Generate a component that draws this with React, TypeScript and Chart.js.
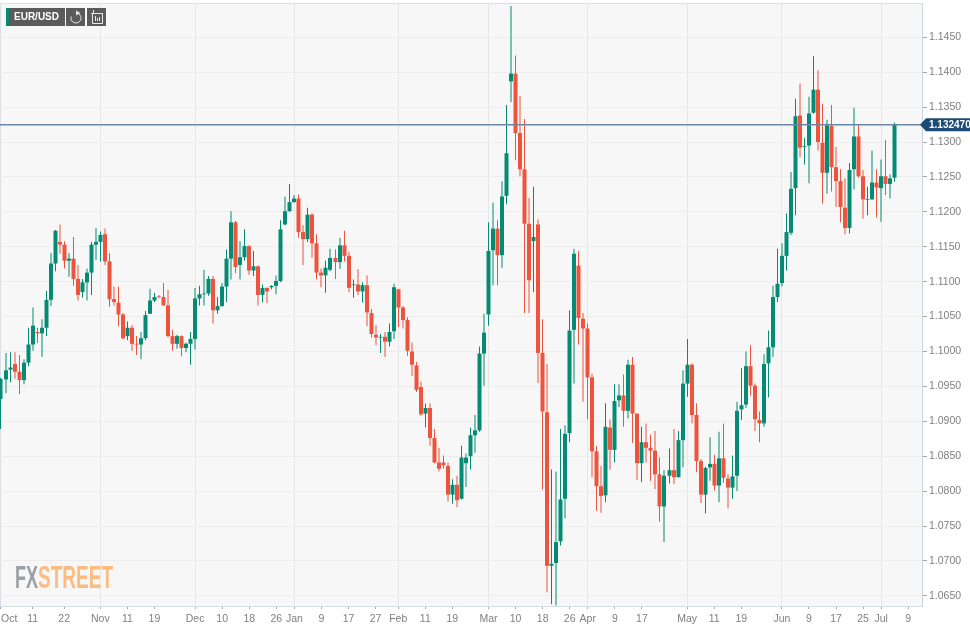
import React, { useEffect, useRef } from "react";
import { Chart, registerables } from "chart.js";

Chart.register(...registerables);

const opens = [
  1.0932,1.0960,1.0974,1.0982,1.0971,1.0959,1.0984,1.1010,1.1028,1.1026,
  1.1034,1.1074,1.1126,1.1157,1.1153,1.1130,1.1133,1.1104,1.1085,1.1099,
  1.1113,1.1153,1.1157,1.1168,1.1129,1.1075,1.1070,1.1053,1.1022,1.1034,
  1.1011,1.1010,1.1019,1.1054,1.1073,1.1079,1.1078,1.1066,1.1022,1.1011,
  1.1022,1.1005,1.1011,1.1018,1.1076,1.1082,1.1083,1.1104,1.1059,1.1065,
  1.1093,1.1133,1.1185,1.1124,1.1135,1.1151,1.1116,1.1122,1.1081,1.1091,
  1.1092,1.1094,1.1101,1.1182,1.1201,1.1214,1.1219,1.1171,1.1161,1.1196,
  1.1155,1.1113,1.1109,1.1117,1.1134,1.1128,1.1152,1.1137,1.1095,1.1096,
  1.1086,1.1095,1.1055,1.1024,1.1020,1.1021,1.1014,1.1029,1.1089,1.1063,
  1.1045,1.1000,1.0980,1.0949,1.0911,1.0919,1.0876,1.0841,1.0841,1.0836,
  1.0795,1.0809,1.0789,1.0840,1.0850,1.0880,1.0887,1.0997,1.1053,1.1145,
  1.1176,1.1138,1.1223,1.1387,1.1398,1.1313,1.1261,1.1183,1.1158,1.1182,
  1.0998,1.0913,1.0693,1.0697,1.0728,1.0789,1.0883,1.1031,1.1123,1.1047,
  1.1033,1.0963,1.0857,1.0807,1.0794,1.0891,1.0859,1.0930,1.0937,1.0915,
  1.0981,1.0911,1.0840,1.0870,1.0862,1.0858,1.0824,1.0778,1.0822,1.0830,
  1.0820,1.0873,1.0954,1.0981,1.0909,1.0843,1.0795,1.0834,1.0839,1.0808,
  1.0847,1.0818,1.0805,1.0822,1.0917,1.0924,1.0979,1.0951,1.0902,1.0897,
  1.0983,1.1006,1.1078,1.1098,1.1137,1.1170,1.1234,1.1338,1.1293,1.1295,
  1.1342,1.1375,1.1299,1.1256,1.1323,1.1264,1.1244,1.1206,1.1177,1.1261,
  1.1308,1.1251,1.1217,1.1218,1.1242,1.1234,1.1251,1.1240,1.1249,
];
const highs = [
  1.0962,1.0998,1.0999,1.0999,1.0995,1.0989,1.1034,1.1063,1.1034,1.1046,
  1.1087,1.1141,1.1174,1.1182,1.1158,1.1141,1.1164,1.1124,1.1104,1.1119,
  1.1157,1.1177,1.1172,1.1176,1.1141,1.1093,1.1093,1.1055,1.1043,1.1038,
  1.1022,1.1028,1.1058,1.1090,1.1084,1.1081,1.1098,1.1088,1.1031,1.1024,
  1.1023,1.1013,1.1028,1.1091,1.1094,1.1117,1.1108,1.1108,1.1078,1.1098,
  1.1146,1.1201,1.1187,1.1158,1.1175,1.1152,1.1144,1.1123,1.1096,1.1092,
  1.1095,1.1109,1.1188,1.1222,1.1240,1.1224,1.1225,1.1181,1.1206,1.1198,
  1.1168,1.1119,1.1130,1.1147,1.1146,1.1163,1.1173,1.1143,1.1103,1.1118,
  1.1099,1.1109,1.1061,1.1038,1.1025,1.1028,1.1040,1.1097,1.1090,1.1065,
  1.1049,1.1013,1.0985,1.0957,1.0925,1.0926,1.0889,1.0862,1.0851,1.0841,
  1.0817,1.0822,1.0865,1.0854,1.0891,1.0909,1.1007,1.1054,1.1185,1.1213,
  1.1188,1.1244,1.1353,1.1495,1.1424,1.1366,1.1333,1.1220,1.1236,1.1189,
  1.1046,1.0982,1.0831,1.0828,1.0889,1.0894,1.1059,1.1147,1.1144,1.1055,
  1.1040,1.0968,1.0865,1.0836,1.0926,1.0903,1.0953,1.0953,1.0967,1.0988,
  1.0992,1.0911,1.0892,1.0897,1.0881,1.0886,1.0848,1.0830,1.0861,1.0889,
  1.0886,1.0973,1.1018,1.0983,1.0926,1.0846,1.0835,1.0877,1.0852,1.0885,
  1.0897,1.0824,1.0851,1.0928,1.0976,1.1000,1.1009,1.0954,1.0914,1.0996,
  1.1030,1.1094,1.1147,1.1155,1.1198,1.1257,1.1362,1.1384,1.1306,1.1365,
  1.1423,1.1403,1.1355,1.1332,1.1353,1.1293,1.1261,1.1248,1.1270,1.1349,
  1.1325,1.1260,1.1236,1.1288,1.1261,1.1275,1.1303,1.1254,1.1328,
];
const lows = [
  1.0889,1.0940,1.0956,1.0961,1.0939,1.0953,1.0979,1.1001,1.1012,1.0992,
  1.1022,1.1065,1.1115,1.1140,1.1119,1.1107,1.1094,1.1073,1.1077,1.1073,
  1.1081,1.1131,1.1129,1.1124,1.1064,1.1066,1.1036,1.1017,1.1016,1.1001,
  1.0995,1.0989,1.1016,1.1054,1.1071,1.1076,1.1066,1.1020,1.1001,1.1004,
  1.0993,1.0999,1.0981,1.1003,1.1066,1.1066,1.1080,1.1040,1.1054,1.1064,
  1.1071,1.1103,1.1112,1.1103,1.1130,1.1110,1.1108,1.1066,1.1070,1.1069,
  1.1089,1.1082,1.1099,1.1181,1.1200,1.1213,1.1163,1.1124,1.1157,1.1134,
  1.1103,1.1092,1.1084,1.1115,1.1104,1.1118,1.1129,1.1085,1.1077,1.1081,
  1.1070,1.1036,1.1020,1.1009,1.0998,1.0992,1.1007,1.1018,1.1035,1.1033,
  1.0994,1.0965,1.0942,1.0908,1.0891,1.0865,1.0840,1.0828,1.0832,1.0785,
  1.0782,1.0777,1.0788,1.0806,1.0831,1.0855,1.0885,1.0951,1.1037,1.1095,
  1.1095,1.1120,1.1211,1.1357,1.1274,1.1251,1.1055,1.1055,1.1085,1.0955,
  1.0802,1.0655,1.0638,1.0636,1.0722,1.0761,1.0870,1.0954,1.1010,1.0928,
  1.0903,1.0820,1.0772,1.0769,1.0784,1.0831,1.0841,1.0920,1.0892,1.0904,
  1.0869,1.0816,1.0813,1.0841,1.0815,1.0803,1.0756,1.0727,1.0811,1.0810,
  1.0819,1.0834,1.0935,1.0897,1.0827,1.0783,1.0768,1.0815,1.0801,1.0784,
  1.0812,1.0775,1.0789,1.0800,1.0902,1.0919,1.0937,1.0886,1.0870,1.0892,
  1.0934,1.0992,1.1071,1.1093,1.1116,1.1167,1.1195,1.1278,1.1268,1.1241,
  1.1341,1.1288,1.1212,1.1226,1.1229,1.1207,1.1185,1.1168,1.1169,1.1232,
  1.1249,1.1190,1.1195,1.1217,1.1192,1.1186,1.1224,1.1219,1.1243,
];
const closes = [
  1.0961,1.0973,1.0977,1.0971,1.0959,1.0984,1.1010,1.1037,1.1026,1.1034,
  1.1074,1.1126,1.1173,1.1153,1.1130,1.1133,1.1104,1.1081,1.1099,1.1113,
  1.1153,1.1157,1.1167,1.1129,1.1075,1.1071,1.1053,1.1019,1.1034,1.1011,
  1.1010,1.1019,1.1052,1.1073,1.1078,1.1078,1.1066,1.1022,1.1011,1.1022,
  1.1005,1.1011,1.1018,1.1076,1.1082,1.1083,1.1104,1.1059,1.1065,1.1093,
  1.1133,1.1185,1.1121,1.1135,1.1151,1.1116,1.1122,1.1081,1.1091,1.1086,
  1.1094,1.1101,1.1175,1.1201,1.1214,1.1219,1.1171,1.1161,1.1196,1.1155,
  1.1113,1.1109,1.1120,1.1134,1.1128,1.1152,1.1137,1.1091,1.1096,1.1086,
  1.1095,1.1056,1.1025,1.1020,1.1021,1.1014,1.1028,1.1092,1.1063,1.1045,
  1.1001,1.0981,1.0945,1.0910,1.0919,1.0876,1.0841,1.0832,1.0837,1.0795,
  1.0809,1.0787,1.0848,1.0848,1.0880,1.0887,1.0997,1.1027,1.1144,1.1176,
  1.1138,1.1222,1.1284,1.1398,1.1313,1.1261,1.1183,1.1102,1.1164,1.0998,
  1.0914,1.0693,1.0696,1.0727,1.0788,1.0882,1.1030,1.1140,1.1048,1.1033,
  1.0963,1.0857,1.0807,1.0793,1.0892,1.0859,1.0929,1.0937,1.0915,1.0981,
  1.0911,1.0840,1.0870,1.0862,1.0858,1.0824,1.0778,1.0822,1.0830,1.0820,
  1.0873,1.0954,1.0981,1.0909,1.0843,1.0795,1.0833,1.0839,1.0808,1.0847,
  1.0819,1.0805,1.0821,1.0915,1.0923,1.0979,1.0951,1.0903,1.0897,1.0982,
  1.1006,1.1078,1.1097,1.1137,1.1171,1.1233,1.1337,1.1292,1.1294,1.1341,
  1.1375,1.1300,1.1256,1.1324,1.1264,1.1244,1.1207,1.1177,1.1260,1.1308,
  1.1251,1.1218,1.1218,1.1242,1.1235,1.1251,1.1240,1.1248,1.13247,
];

const tickIndexes = [0,7,14,22,28,34,43,49,55,61,65,71,77,83,88,94,100,108,114,120,126,130,136,142,152,158,164,173,179,185,191,195,201];
const tickLabels = ["Oct","11","22","Nov","11","19","Dec","10","18","26","Jan","9","17","27","Feb","11","19","Mar","10","18","26","Apr","9","17","May","11","19","Jun","9","17","25","Jul","9"];
const monthLabels = ["Nov","Dec","Jan","Feb","Mar","Apr","May","Jun","Jul"];
const priceTicks = [1.065,1.07,1.075,1.08,1.085,1.09,1.095,1.1,1.105,1.11,1.115,1.12,1.125,1.13,1.135,1.14,1.145];
const lastPrice = 1.13247;
const symbol = "EUR/USD";

const UP = "#058a73";
const DOWN = "#ee533d";
const FONT = "'Liberation Sans', Arial, sans-serif";
const X_MIN = -0.22;
const X_MAX = 204.05;

const chrome = {
  id: "chrome",
  beforeDraw(chart: any) {
    const { ctx, chartArea: a } = chart;
    ctx.save();
    ctx.fillStyle = "#f7f7f7";
    ctx.fillRect(a.left, a.top, a.right - a.left, a.bottom - a.top);
    ctx.strokeStyle = "#d9dfe6";
    ctx.lineWidth = 1;
    ctx.beginPath();
    ctx.moveTo(0.5, a.bottom);
    ctx.lineTo(0.5, a.top + 0.5);
    ctx.lineTo(a.right, a.top + 0.5);
    ctx.stroke();
    ctx.restore();
  },
  beforeDatasetsDraw(chart: any) {
    chart.data.datasets.forEach((ds: any, k: number) => {
      if (ds.type === "line") return;
      chart.getDatasetMeta(k).data.forEach((el: any, i: number) => {
        el.x = i % 2 === 0 ? Math.floor(el.x) + 0.5 : Math.round(el.x);
      });
    });
  },
  afterDraw(chart: any) {
    const { ctx, scales } = chart;
    const y = scales.y.getPixelForValue(lastPrice);
    ctx.save();
    // last price tag
    ctx.fillStyle = "#1d4b73";
    ctx.beginPath();
    ctx.moveTo(920, y);
    ctx.lineTo(926, y - 6.5);
    ctx.lineTo(970, y - 6.5);
    ctx.lineTo(970, y + 6.5);
    ctx.lineTo(926, y + 6.5);
    ctx.closePath();
    ctx.fill();
    ctx.fillStyle = "#ffffff";
    ctx.font = `bold 10px ${FONT}`;
    ctx.textBaseline = "middle";
    ctx.textAlign = "left";
    ctx.fillText(lastPrice.toFixed(6), 929, y + 0.5);

    // toolbar
    ctx.fillStyle = "#5b5b5b";
    ctx.fillRect(6, 8, 59, 18);
    ctx.fillRect(66, 8, 19, 18);
    ctx.fillRect(87, 8, 19, 18);
    ctx.fillStyle = UP;
    ctx.fillRect(6, 8, 3, 18);
    ctx.fillStyle = "#ffffff";
    ctx.font = `bold 10px ${FONT}`;
    ctx.fillText(symbol, 14, 17.5);
    ctx.strokeStyle = "#e8e8e8";
    ctx.lineWidth = 1;
    ctx.beginPath();
    ctx.arc(76, 18, 5, -Math.PI * 0.35, Math.PI * 1.1);
    ctx.stroke();
    ctx.fillStyle = "#e8e8e8";
    ctx.beginPath();
    ctx.moveTo(76, 10.5);
    ctx.lineTo(80.5, 13);
    ctx.lineTo(76, 15.5);
    ctx.closePath();
    ctx.fill();
    ctx.beginPath();
    ctx.moveTo(91, 13.5);
    ctx.lineTo(103, 13.5);
    ctx.moveTo(92.5, 13.5);
    ctx.lineTo(92.5, 23.5);
    ctx.lineTo(102.5, 23.5);
    ctx.lineTo(102.5, 13.5);
    ctx.moveTo(95.5, 16);
    ctx.lineTo(95.5, 21);
    ctx.moveTo(97.5, 18);
    ctx.lineTo(97.5, 21);
    ctx.moveTo(99.5, 17);
    ctx.lineTo(99.5, 21);
    ctx.moveTo(93.5, 10);
    ctx.lineTo(93.5, 13);
    ctx.stroke();

    // watermark
    ctx.textBaseline = "alphabetic";
    ctx.font = `bold 32px 'Liberation Sans Narrow', 'Liberation Sans', sans-serif`;
    ctx.fillStyle = "#9b9fa6";
    ctx.fillText("FX", 15, 587.5, 23);
    ctx.fillStyle = "#fcbc80";
    ctx.fillText("STREET", 38, 587.5, 75);
    ctx.restore();
  },
};

export default function App() {
  const ref = useRef<HTMLCanvasElement>(null);
  useEffect(() => {
    if (!ref.current) return;
    const colors = closes.map((c, i) => (c >= opens[i] ? UP : DOWN));
    const chart = new Chart(ref.current, {
      type: "bar",
      data: {
        datasets: [
          {
            type: "line",
            data: [
              { x: X_MIN, y: lastPrice },
              { x: X_MAX, y: lastPrice },
            ],
            borderColor: "#6b87a4",
            borderWidth: 1.5,
            pointRadius: 0,
            order: 0,
          },
          {
            data: highs.map((h, i) => ({ x: i, y: [lows[i], h] })),
            backgroundColor: colors,
            barThickness: 1,
            grouped: false,
            borderWidth: 0,
            inflateAmount: 0,
            order: 2,
          },
          {
            data: opens.map((o, i) => ({ x: i, y: [Math.min(o, closes[i]), Math.max(o, closes[i])] })),
            backgroundColor: colors,
            barThickness: 4,
            grouped: false,
            borderWidth: 0,
            inflateAmount: 0,
            order: 1,
          },
        ] as any,
      },
      options: {
        responsive: false,
        animation: false,
        devicePixelRatio: 1,
        events: [],
        layout: { padding: { top: 3, left: 0, right: 0, bottom: 0 } },
        plugins: { legend: { display: false }, tooltip: { enabled: false }, title: { display: false } },
        scales: {
          x: {
            type: "linear",
            offset: false,
            min: X_MIN,
            max: X_MAX,
            afterFit: (s: any) => {
              s.height = 20;
              s.paddingLeft = 0;
              s.paddingRight = 0;
            },
            afterBuildTicks: (s: any) => {
              s.ticks = [...tickIndexes, X_MAX].map((value) => ({ value }));
            },
            grid: {
              offset: false,
              drawOnChartArea: true,
              tickLength: 3,
              color: (c: any) => (monthLabels.includes(tickLabels[tickIndexes.indexOf(c.tick?.value)]) ? "#e7e7e7" : "rgba(0,0,0,0)"),
              tickColor: (c: any) => (c.tick?.value === X_MAX ? "rgba(0,0,0,0)" : "#a9a9a9"),
            },
            border: { color: "#d9dfe6", display: true },
            ticks: {
              autoSkip: false,
              maxRotation: 0,
              minRotation: 0,
              align: "inner",
              padding: 3.5,
              color: "#808080",
              font: { family: FONT, size: 10.5 },
              callback: (v: any) => tickLabels[tickIndexes.indexOf(v)] ?? "",
            },
          },
          y: {
            type: "linear",
            position: "right",
            min: 1.06354,
            max: 1.14992,
            afterFit: (s: any) => {
              s.width = 48;
              s.paddingTop = 0;
              s.paddingBottom = 0;
            },
            afterBuildTicks: (s: any) => {
              s.ticks = priceTicks.map((value) => ({ value }));
            },
            grid: { color: "#ededed", tickLength: 5, tickColor: "#a9a9a9" },
            border: { color: "#c9d3dd", display: true },
            ticks: {
              autoSkip: false,
              padding: 2,
              color: "#808080",
              font: { family: FONT, size: 10.5 },
              callback: (v: any) => Number(v).toFixed(4),
            },
          },
        },
      } as any,
      plugins: [chrome],
    });
    return () => chart.destroy();
  }, []);
  return (
    <canvas
      ref={ref}
      width={970}
      height={626}
      style={{ position: "fixed", left: 0, top: 0, width: 970, height: 626, display: "block" }}
    />
  );
}
